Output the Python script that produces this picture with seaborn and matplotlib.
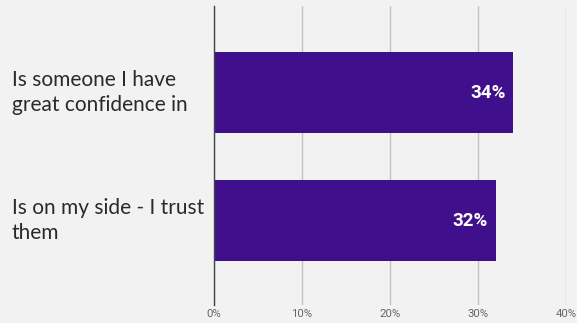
import matplotlib
matplotlib.use("Agg")
import matplotlib.pyplot as plt
import seaborn as sns
import pandas as pd

categories = ["Is someone I have\ngreat confidence in", "Is on my side - I trust\nthem"]
values = [34, 32]
ticks = [0, 10, 20, 30, 40]
tick_labels = ["0%", "10%", "20%", "30%", "40%"]

bg = "#f2f2f2"
bar_color = "#400f8b"

sns.set_theme(style="white")
plt.rcParams["font.family"] = ["Lato", "DejaVu Sans"]

df = pd.DataFrame({"category": categories, "value": values})

fig = plt.figure(figsize=(5.77, 3.23), dpi=100, facecolor=bg)
ax = fig.add_axes([214 / 577, 18 / 323, 352 / 577, 299 / 323])
ax.set_facecolor(bg)

sns.barplot(data=df, y="category", x="value", orient="h", color=bar_color,
            saturation=1, width=0.63, ax=ax, zorder=3, edgecolor="none")

ax.set_xlim(0, 40)
ax.set_ylim(1.66, -0.676)
ax.set_xticks(ticks)
ax.set_xticklabels(tick_labels, fontfamily="Roboto", fontsize=8.2, color="#666666")
ax.tick_params(axis="x", length=0, pad=3)
ax.tick_params(axis="y", length=0)
ax.grid(axis="x", color="#c4c4c4", linewidth=1, zorder=0)
ax.set_xlabel("")
ax.set_ylabel("")

for s in ["top", "right", "bottom"]:
    ax.spines[s].set_visible(False)
ax.spines["left"].set_color("#444444")
ax.spines["left"].set_linewidth(1)
ax.spines["left"].set_zorder(4)

ax.set_yticklabels([])
for i, label in enumerate(categories):
    ax.text(-214 / 352 * 40 + 12 / 352 * 40, i, label, ha="left", va="center",
            fontsize=15, color="#2a2a2a", linespacing=1.3, clip_on=False)

for i, v in enumerate(values):
    ax.text(v - 0.9, i, f"{v}%", ha="right", va="center", color="white",
            fontsize=13.5, fontweight="bold", fontfamily="Roboto", zorder=5)

fig.savefig("out.png", dpi=100, facecolor=bg)
